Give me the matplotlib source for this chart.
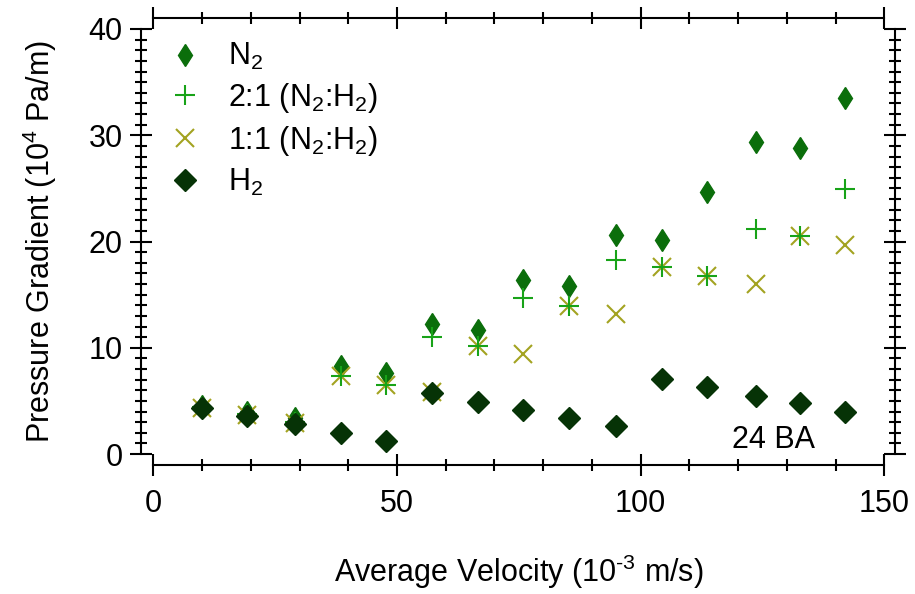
import matplotlib
matplotlib.use("Agg")
import matplotlib.pyplot as plt
from matplotlib.ticker import MultipleLocator

plt.rcParams['font.family'] = ['Liberation Sans', 'DejaVu Sans']
plt.rcParams['mathtext.fontset'] = 'custom'
plt.rcParams['mathtext.rm'] = 'Liberation Sans'
plt.rcParams['mathtext.it'] = 'Liberation Sans:italic'

# data
velocity = [10.0, 19.3, 29.1, 38.5, 47.8, 57.1, 66.6, 75.8, 85.3, 94.9, 104.3, 113.6, 123.6, 132.6, 142.0]
n2 = [4.5, 4.0, 3.4, 8.3, 7.6, 12.2, 11.7, 16.4, 15.8, 20.6, 20.1, 24.7, 29.4, 28.8, 33.5]
mix21 = [4.4, 3.8, 3.0, 7.3, 6.5, 11.0, 10.2, 14.7, 13.9, 18.3, 17.6, 16.8, 21.2, 20.5, 24.9]
mix11 = [4.3, 3.7, 2.9, 7.3, 6.5, 5.8, 10.2, 9.4, 13.9, 13.2, 17.6, 16.8, 16.0, 20.5, 19.7]
h2 = [4.3, 3.6, 2.8, 2.0, 1.2, 5.7, 4.9, 4.1, 3.4, 2.6, 7.1, 6.3, 5.5, 4.8, 4.0]

labels = ['N$_2$', '2:1 (N$_2$:H$_2$)', '1:1 (N$_2$:H$_2$)', 'H$_2$']
colors = ['#0b6e0b', '#18a318', '#a3a321', '#063306']

FS = 22

fig = plt.figure(figsize=(9.15, 5.94), dpi=100)
ax = fig.add_axes([153.3 / 915, 140 / 594, 731 / 915, 425 / 594])

h_n2, = ax.plot(velocity, n2, linestyle='none', marker='d', ms=11.5,
                color=colors[0], mec=colors[0], zorder=3)
h_11, = ax.plot(velocity, mix11, linestyle='none', marker='x', ms=13,
                mew=1.5, color=colors[2], zorder=4)
h_21, = ax.plot(velocity, mix21, linestyle='none', marker='+', ms=14,
                mew=1.5, color=colors[1], zorder=5)
h_h2, = ax.plot(velocity, h2, linestyle='none', marker='D', ms=11.5,
                color=colors[3], mec=colors[3], zorder=6)

ax.set_xlim(0, 150)
ax.set_ylim(0, 40)
ax.xaxis.set_major_locator(MultipleLocator(50))
ax.xaxis.set_minor_locator(MultipleLocator(10))
ax.yaxis.set_major_locator(MultipleLocator(10))
ax.yaxis.set_minor_locator(MultipleLocator(1))

for side, off in [('left', 9), ('right', 7.7), ('top', 8.1), ('bottom', 7.9)]:
    ax.spines[side].set_position(('outward', off))
    ax.spines[side].set_linewidth(1.5)

ax.tick_params(which='both', direction='inout', top=True, right=True,
               width=1.5, labelsize=FS, colors='black')
ax.tick_params(which='major', length=16)
ax.tick_params(which='minor', length=8.6)
ax.tick_params(axis='y', which='major', pad=5)
ax.tick_params(axis='x', which='major', pad=9.5)

ax.set_xlabel(r'Average Velocity (10$^{\text{-3}}$ m/s)', fontsize=FS, labelpad=24)
ax.set_ylabel('Pressure Gradient (10$^{4}$ Pa/m)', fontsize=FS, labelpad=21)

ax.text(0.905, 0.033, '24 BA', transform=ax.transAxes, ha='right',
        va='center', fontsize=FS)

leg = ax.legend([h_n2, h_21, h_11, h_h2], labels, loc='upper left',
                bbox_to_anchor=(0.0, 1.0), frameon=False, fontsize=FS,
                handletextpad=0.75, labelspacing=0.29, borderaxespad=0.0,
                handlelength=1.3)

fig.savefig('out.png', dpi=100)
